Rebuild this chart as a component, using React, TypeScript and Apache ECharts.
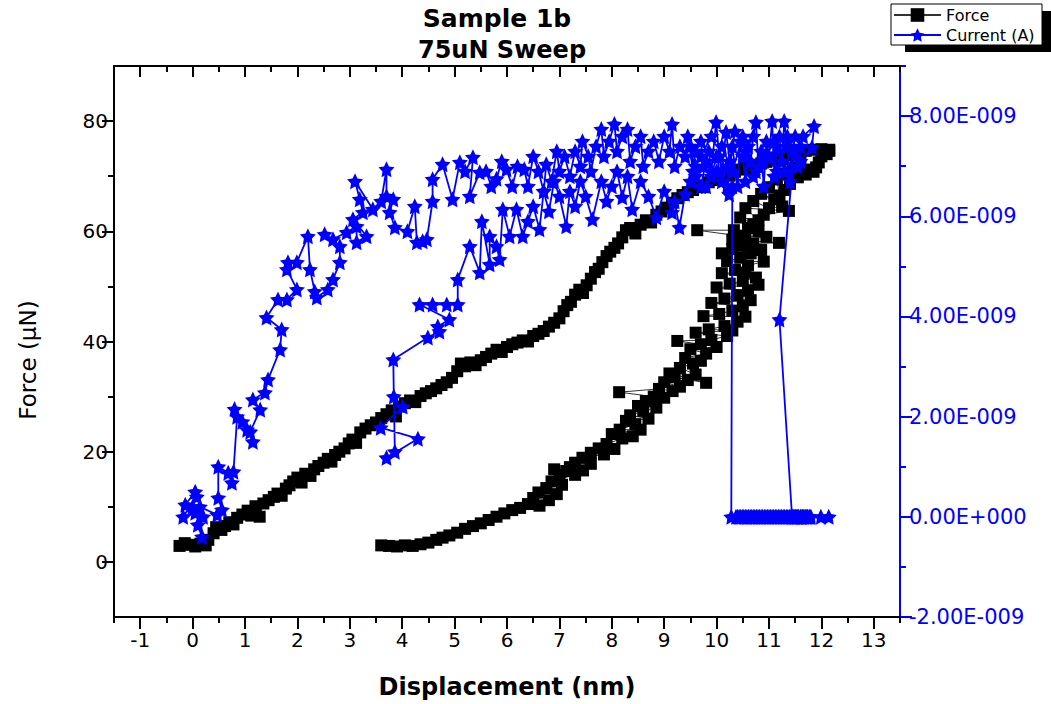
import React, { useEffect, useRef } from "react";
import * as echarts from "echarts";

// ---------- axis ticks / labels ----------
const xMajorTicks = [-1, 0, 1, 2, 3, 4, 5, 6, 7, 8, 9, 10, 11, 12, 13];
const xMinorTicks = [-1.5, -0.5, 0.5, 1.5, 2.5, 3.5, 4.5, 5.5, 6.5, 7.5, 8.5, 9.5, 10.5, 11.5, 12.5, 13.5];
const forceMajorTicks = [0, 20, 40, 60, 80];
const forceMinorTicks = [10, 30, 50, 70];
const currentMajorTicks = [-2, 0, 2, 4, 6, 8];
const currentMinorTicks = [-1, 1, 3, 5, 7, 9];

// ---------- Force (µN) vs displacement (nm) ----------
const forceLoading: [number, number][] = [
  [-0.25, 2.9], [-0.15, 3.4], [-0.05, 3.1], [0.05, 2.8], [0.15, 3.3], [0.25, 3.0], [0.3, 4.0], [0.4, 5.2],
  [0.45, 6.3], [0.55, 5.8], [0.62, 6.5], [0.7, 7.2], [0.78, 6.8], [0.85, 8.0], [0.95, 8.6], [1.05, 9.3],
  [1.12, 8.4], [1.2, 10.1], [1.28, 8.2], [1.35, 10.6], [1.45, 11.2], [1.55, 11.8], [1.62, 12.4], [1.7, 12.0],
  [1.78, 13.3], [1.85, 13.9], [1.92, 14.6], [2.0, 15.3], [2.08, 14.4], [2.15, 16.0], [2.25, 15.6], [2.32, 16.8],
  [2.4, 17.4], [2.5, 18.0], [2.58, 18.7], [2.65, 18.2], [2.72, 19.4], [2.8, 20.0], [2.9, 20.6], [2.98, 21.5],
  [3.05, 22.2], [3.12, 21.6], [3.2, 23.5], [3.3, 24.2], [3.4, 24.8], [3.5, 25.3], [3.6, 26.1], [3.7, 26.8],
  [3.8, 27.5], [3.88, 26.4], [3.95, 28.2], [4.05, 28.8], [4.15, 29.3], [4.25, 29.0], [4.35, 30.1], [4.45, 30.6],
  [4.55, 31.0], [4.65, 31.5], [4.75, 32.1], [4.85, 32.6], [4.95, 33.4], [5.05, 34.6], [5.12, 36.0], [5.2, 35.5],
  [5.3, 36.2], [5.4, 35.7], [5.5, 36.6], [5.6, 37.2], [5.7, 37.8], [5.8, 38.5], [5.9, 38.1], [6.0, 39.0],
  [6.1, 39.5], [6.2, 39.8], [6.3, 40.2], [6.4, 40.0], [6.5, 41.0], [6.6, 41.4], [6.7, 41.9], [6.8, 42.7],
  [6.9, 43.4], [7.0, 44.2], [7.08, 45.5], [7.15, 46.6], [7.22, 47.2], [7.3, 48.5], [7.38, 49.4], [7.45, 48.8],
  [7.52, 50.2], [7.6, 51.4], [7.68, 52.6], [7.75, 53.2], [7.82, 54.4], [7.9, 55.5], [7.97, 56.3], [8.05, 57.0],
  [8.12, 57.8], [8.2, 58.9], [8.27, 60.2], [8.35, 60.6], [8.45, 59.6], [8.55, 61.2], [8.65, 62.0], [8.75, 61.6],
  [8.85, 63.0], [8.95, 63.6], [9.05, 64.3], [9.15, 65.2], [9.25, 66.0], [9.35, 66.6], [9.45, 67.1], [9.55, 67.5],
  [9.65, 68.2], [9.75, 68.0], [9.85, 68.9], [9.95, 69.3], [10.05, 69.9], [10.15, 70.4], [10.25, 70.1], [10.35, 70.8],
  [10.45, 71.2], [10.55, 71.6], [10.65, 71.4], [10.75, 72.0], [10.85, 72.3], [10.95, 72.6], [11.05, 72.9], [11.15, 73.4],
  [11.25, 73.1], [11.35, 73.8], [11.45, 74.1], [11.55, 74.3], [11.7, 74.6], [11.85, 74.8], [12.0, 74.9], [12.15, 74.8],
];
const forceUnloading: [number, number][] = [
  [12.15, 74.6], [12.1, 74.0], [12.0, 73.6], [11.95, 72.5], [11.85, 70.8], [11.9, 71.6], [11.75, 71.2], [11.7, 70.3],
  [11.6, 72.5], [11.55, 69.8], [11.45, 71.5], [11.4, 68.6], [11.3, 70.5], [11.3, 67.5], [11.15, 69.4], [11.2, 66.5],
  [11.0, 68.0], [11.1, 65.8], [10.85, 66.8], [11.25, 64.5], [11.0, 64.2], [10.7, 65.5], [10.9, 63.0], [11.38, 63.7],
  [10.55, 64.2], [10.8, 62.0], [10.45, 62.5], [10.7, 61.3], [10.6, 60.6], [10.8, 60.0], [10.33, 60.2], [9.63, 60.2],
  [10.4, 59.2], [10.95, 59.0], [10.55, 58.5], [10.3, 58.5], [11.19, 57.9], [10.7, 57.8], [10.5, 57.4], [10.3, 56.8],
  [10.85, 56.6], [10.1, 56.0], [10.65, 56.0], [10.45, 55.2], [10.2, 54.6], [10.9, 54.5], [10.6, 53.8], [10.35, 53.0],
  [10.55, 52.5], [10.1, 52.4], [10.75, 51.6], [10.5, 51.0], [10.25, 50.5], [10.8, 50.3], [10.0, 49.8], [10.6, 49.2],
  [10.4, 48.4], [10.15, 47.8], [10.65, 47.5], [9.9, 47.0], [10.5, 46.4], [10.3, 45.6], [10.05, 45.0], [9.75, 44.6],
  [10.55, 44.5], [10.4, 43.6], [10.15, 42.8], [9.85, 42.2], [10.3, 42.0], [9.6, 41.6], [10.2, 41.0], [9.9, 40.3],
  [9.25, 40.1], [9.7, 39.5], [10.0, 39.0], [9.5, 38.6], [9.8, 37.8], [9.4, 37.0], [9.7, 36.5], [9.55, 36.0],
  [9.3, 35.2], [9.6, 34.0], [9.1, 34.2], [9.8, 32.5], [9.2, 33.5], [9.45, 33.0], [9.0, 32.6], [9.3, 31.8],
  [9.16, 31.0], [8.9, 31.4], [8.14, 30.8], [8.8, 30.0], [9.0, 29.8], [8.65, 29.2], [8.5, 28.3], [8.85, 28.0],
  [8.6, 27.4], [8.35, 26.6], [8.7, 26.0], [8.27, 25.6], [8.45, 25.0], [8.15, 24.0], [8.55, 24.0], [8.0, 23.2],
  [8.4, 22.8], [8.2, 22.4], [7.9, 21.4], [8.05, 20.5], [7.75, 20.6], [7.6, 19.8], [7.85, 19.5], [7.44, 18.9],
  [7.3, 18.0], [7.6, 17.8], [7.2, 17.2], [7.45, 16.6], [7.13, 16.5], [6.9, 16.8], [7.0, 15.8], [7.3, 15.8],
  [6.85, 14.6], [7.05, 14.0], [6.75, 13.4], [6.6, 12.6], [6.95, 12.3], [6.5, 11.6], [6.8, 11.2], [6.62, 10.2],
  [6.4, 10.5], [6.25, 9.8], [6.1, 9.4], [5.95, 8.8], [5.8, 8.2], [5.65, 7.6], [5.5, 7.0], [5.35, 6.5],
  [5.2, 6.0], [5.05, 5.3], [4.9, 4.8], [4.77, 4.4], [4.65, 4.0], [4.5, 3.5], [4.35, 3.2], [4.2, 2.9],
  [4.05, 3.0], [3.9, 2.8], [3.75, 2.9], [3.6, 3.0],
];

// ---------- Current (units of 1E-009 A) vs displacement (nm) ----------
const currentLoading: [number, number][] = [
  [0.0, 0.2], [-0.14, 0.24], [0.05, 0.5], [0.08, 0.4], [-0.18, 0.0], [0.05, 0.08], [0.2, 0.0], [0.1, -0.16],
  [0.18, -0.4], [0.14, 0.2], [0.47, 0.04], [0.56, 0.14], [0.49, 0.38], [0.49, 1.0], [0.68, 0.88], [0.75, 0.68],
  [0.78, 0.9], [0.85, 2.0], [0.8, 2.15], [1.04, 1.74], [0.95, 1.9], [1.15, 1.5], [1.1, 1.7], [1.29, 2.14],
  [1.15, 2.34], [1.38, 2.48], [1.44, 2.74], [1.67, 3.34], [1.7, 3.74], [1.41, 3.98], [1.63, 4.34], [1.8, 4.34],
  [1.99, 4.54], [1.8, 4.94], [1.82, 5.08], [1.99, 5.08], [2.2, 5.6], [2.24, 4.94], [2.33, 4.5], [2.37, 4.38],
  [2.58, 4.54], [2.68, 4.74], [2.81, 5.08], [2.81, 5.4], [2.52, 5.64], [2.68, 5.54], [2.94, 5.68], [3.13, 5.8],
  [3.13, 5.48], [3.32, 5.6], [3.06, 5.94], [3.25, 6.08], [3.19, 6.34], [3.1, 6.7], [3.44, 6.14], [3.6, 6.3],
  [3.7, 6.94], [3.7, 6.4], [3.83, 6.34], [3.76, 6.08], [3.86, 5.78], [4.1, 5.7], [4.24, 6.2], [4.28, 5.48],
  [4.39, 5.5], [4.47, 5.54], [4.58, 6.3], [4.58, 6.74], [4.77, 7.04], [4.96, 6.34], [5.1, 7.08], [5.2, 6.9],
  [5.35, 7.18], [5.29, 6.4], [5.48, 6.88], [5.6, 6.9], [5.7, 6.6], [5.8, 6.75], [5.9, 7.1], [5.99, 6.94],
  [6.1, 6.6], [6.2, 7.0], [6.33, 6.94], [6.4, 6.6], [6.5, 7.2], [6.6, 6.9], [6.7, 6.5], [6.75, 7.04],
  [6.85, 6.7], [6.95, 7.3], [7.0, 6.9], [7.1, 7.2], [7.2, 6.8], [7.3, 7.3], [7.4, 7.0], [7.44, 7.5],
  [7.55, 7.2], [7.6, 6.9], [7.7, 7.4], [7.8, 7.74], [7.85, 7.2], [7.95, 7.5], [8.05, 7.84], [8.1, 7.3],
  [8.2, 7.6], [8.3, 7.74], [8.35, 7.1], [8.45, 7.4], [8.55, 7.6], [8.6, 7.0], [8.7, 7.3], [8.8, 7.5],
  [8.9, 7.1], [9.0, 7.6], [9.1, 7.3], [9.15, 7.84], [9.2, 7.0], [9.3, 7.4], [9.4, 7.2], [9.45, 7.6],
  [9.55, 6.9], [9.6, 7.3], [9.7, 7.5], [9.75, 7.0], [9.85, 7.3], [9.9, 6.9], [9.99, 7.88], [10.05, 7.2],
  [10.1, 6.9], [10.18, 7.68], [10.25, 7.1], [10.3, 7.4], [10.4, 6.6], [10.45, 7.5], [10.5, 7.2], [10.55, 6.7],
  [10.6, 7.4], [10.65, 7.1], [10.7, 7.6], [10.75, 7.88], [10.8, 7.0], [10.85, 7.3], [10.9, 6.6], [10.95, 7.5],
  [11.0, 7.2], [11.06, 7.9], [11.1, 6.8], [11.15, 7.4], [11.2, 7.6], [11.25, 7.1], [11.29, 7.9], [11.35, 7.4],
  [11.4, 6.7], [11.45, 7.3], [11.5, 7.6], [11.6, 7.4], [11.3, 6.9], [11.1, 7.5], [10.9, 7.1], [10.7, 6.8],
  [10.5, 7.6], [10.3, 6.9], [10.1, 7.4], [9.9, 7.6], [9.7, 7.2], [9.5, 7.4], [9.6, 6.8], [9.8, 6.6],
  [10.0, 6.9], [10.2, 6.6], [10.35, 7.7], [10.55, 7.3], [10.75, 6.9], [10.95, 7.2], [11.15, 6.9], [11.35, 7.6],
  [11.55, 7.0], [11.65, 7.6], [11.86, 7.8], [11.82, 7.38], [11.6, 7.1], [11.48, 7.34], [11.2, 3.94], [11.44, 0.0],
];
const currentZero: [number, number][] = [
  [11.47, 0], [11.5, 0], [11.53, 0], [11.56, 0], [11.6, 0], [11.63, 0], [11.66, 0], [11.7, 0], [11.73, 0],
  [11.77, 0], [11.8, 0], [11.99, 0], [12.14, 0], [11.78, 0], [11.74, 0], [11.71, 0], [11.67, 0], [11.64, 0],
  [11.61, 0], [11.57, 0], [11.54, 0], [11.51, 0], [11.48, 0], [11.45, 0], [11.42, 0], [11.39, 0], [11.36, 0],
  [11.33, 0], [11.3, 0], [11.27, 0], [11.24, 0], [11.21, 0], [11.18, 0], [11.15, 0], [11.12, 0], [11.09, 0],
  [11.06, 0], [11.03, 0], [11.0, 0], [10.97, 0], [10.94, 0], [10.91, 0], [10.88, 0], [10.85, 0], [10.82, 0],
  [10.79, 0], [10.76, 0], [10.73, 0], [10.7, 0], [10.67, 0], [10.64, 0], [10.61, 0], [10.58, 0], [10.55, 0],
  [10.52, 0], [10.49, 0], [10.46, 0], [10.43, 0], [10.4, 0], [10.37, 0], [10.28, 0],
];
const currentUnloading: [number, number][] = [
  [10.3, 6.6], [10.24, 6.44], [10.2, 7.0], [10.1, 6.7], [10.0, 7.2], [9.9, 6.8], [9.8, 7.1], [9.7, 6.6],
  [9.6, 7.0], [9.5, 6.7], [9.4, 6.45], [9.29, 5.78], [9.2, 6.3], [9.15, 6.08], [9.0, 6.5], [8.85, 5.98],
  [8.7, 6.4], [8.55, 6.7], [8.39, 6.14], [8.3, 6.8], [8.2, 6.38], [8.1, 6.9], [8.0, 6.6], [7.9, 6.3],
  [7.8, 6.7], [7.63, 5.94], [7.5, 6.4], [7.4, 6.7], [7.3, 6.2], [7.2, 6.5], [7.13, 5.8], [7.0, 6.4],
  [6.9, 6.7], [6.8, 6.1], [6.7, 6.5], [6.62, 5.74], [6.5, 6.2], [6.4, 5.9], [6.3, 5.6], [6.18, 6.14],
  [6.05, 5.6], [5.92, 6.14], [5.86, 5.14], [5.8, 5.4], [5.67, 5.6], [5.67, 5.04], [5.52, 5.9], [5.48, 4.88],
  [5.29, 5.4], [5.06, 4.74], [5.06, 4.24], [4.85, 4.24], [4.58, 4.24], [4.33, 4.24], [4.9, 3.94], [4.68, 3.8],
  [4.71, 3.7], [4.49, 3.58], [3.83, 3.14], [3.84, 2.4], [3.86, 1.3], [3.7, 1.18], [4.3, 1.56], [3.59, 1.78],
  [4.01, 2.2],
];

const STAR =
  "path://M0,-10L2.94,-4.05L9.51,-3.09L4.76,1.55L5.88,8.09L0,5L-5.88,8.09L-4.76,1.55L-9.51,-3.09L-2.94,-4.05Z";

const FONT = "DejaVu Sans";
const BLUE = "#0000ff";

export default function App() {
  const ref = useRef<HTMLDivElement>(null);

  useEffect(() => {
    if (!ref.current) return;
    const chart = echarts.init(ref.current, null, { renderer: "svg" });

    const blackLine = { color: "#000", width: 2 };
    const blueLine = { color: BLUE, width: 2 };
    const xRange = { min: -1.5, max: 13.5 };
    const fRange = { min: -10, max: 90 };
    const cRange = { min: -2, max: 9 };

    const option: any = {
      animation: false,
      backgroundColor: "#fff",
      grid: { left: 114, right: 151, top: 66, bottom: 87, containLabel: false },
      graphic: [
        { type: "rect", z: 0, shape: { x: 905, y: 11, width: 151, height: 41 }, style: { fill: "#000" } },
        { type: "rect", z: 1, shape: { x: 891, y: 4, width: 151, height: 41 }, style: { fill: "#fff", stroke: "#000", lineWidth: 1 } },
        {
          type: "text", x: 497, y: 18,
          style: { text: "Sample 1b", fontFamily: FONT, fontWeight: "bold", fontSize: 25, fill: "#000", textAlign: "center", textVerticalAlign: "middle" },
        },
        {
          type: "text", x: 502, y: 50,
          style: { text: "75uN Sweep", fontFamily: FONT, fontWeight: "bold", fontSize: 24, fill: "#000", textAlign: "center", textVerticalAlign: "middle" },
        },
        {
          type: "text", x: 28, y: 360, rotation: Math.PI / 2,
          style: { text: "Force (µN)", fontFamily: FONT, fontSize: 23, fill: "#000", textAlign: "center", textVerticalAlign: "middle" },
        },
      ],
      legend: {
        orient: "vertical",
        left: 893,
        top: 7,
        padding: 0,
        itemWidth: 47,
        itemHeight: 17,
        itemGap: 4,
        textStyle: { fontFamily: FONT, fontSize: 16, color: "#000" },
        data: ["Force", "Current (A)"],
      },
      xAxis: [
        {
          type: "value", position: "bottom", ...xRange,
          name: "Displacement (nm)", nameLocation: "middle", nameGap: 58,
          nameTextStyle: { fontFamily: FONT, fontSize: 24, fontWeight: "bold", color: "#000" },
          axisLine: { show: true, onZero: false, lineStyle: blackLine },
          axisTick: { show: true, inside: false, length: 12, lineStyle: blackLine, customValues: xMajorTicks },
          axisLabel: { show: true, customValues: xMajorTicks, fontFamily: FONT, fontSize: 20, color: "#000", margin: 13 },
          splitLine: { show: false },
        },
        {
          type: "value", position: "bottom", ...xRange,
          axisLine: { show: false, onZero: false },
          axisTick: { show: true, inside: false, length: 6, lineStyle: blackLine, customValues: xMinorTicks },
          axisLabel: { show: false },
          splitLine: { show: false },
        },
        {
          type: "value", position: "top", ...xRange,
          axisLine: { show: true, onZero: false, lineStyle: blackLine },
          axisTick: { show: true, inside: true, length: 11, lineStyle: blackLine, customValues: xMajorTicks },
          axisLabel: { show: false },
          splitLine: { show: false },
        },
        {
          type: "value", position: "top", ...xRange,
          axisLine: { show: false, onZero: false },
          axisTick: { show: true, inside: true, length: 6, lineStyle: blackLine, customValues: xMinorTicks },
          axisLabel: { show: false },
          splitLine: { show: false },
        },
      ],
      yAxis: [
        {
          type: "value", position: "left", ...fRange,
          axisLine: { show: true, onZero: false, lineStyle: blackLine },
          axisTick: { show: true, inside: false, length: 12, lineStyle: blackLine, customValues: forceMajorTicks },
          axisLabel: { show: true, customValues: forceMajorTicks, fontFamily: FONT, fontSize: 20, color: "#000", margin: 6 },
          splitLine: { show: false },
        },
        {
          type: "value", position: "right", ...cRange,
          axisLine: { show: true, onZero: false, lineStyle: blueLine },
          axisTick: { show: true, inside: false, length: 12, lineStyle: blueLine, customValues: currentMajorTicks },
          axisLabel: {
            show: true, customValues: currentMajorTicks, fontFamily: FONT, fontSize: 21, color: BLUE, margin: 9,
            formatter: (v: number) => (v === 0 ? "0.00E+000" : v.toFixed(2) + "E-009"),
          },
          splitLine: { show: false },
        },
        {
          type: "value", position: "left", ...fRange,
          axisLine: { show: false, onZero: false },
          axisTick: { show: true, inside: false, length: 6, lineStyle: blackLine, customValues: forceMinorTicks },
          axisLabel: { show: false },
          splitLine: { show: false },
        },
        {
          type: "value", position: "right", ...cRange,
          axisLine: { show: false, onZero: false },
          axisTick: { show: true, inside: false, length: 6, lineStyle: blueLine, customValues: currentMinorTicks },
          axisLabel: { show: false },
          splitLine: { show: false },
        },
      ],
      series: [
        {
          type: "line",
          name: "Force",
          xAxisIndex: 0,
          yAxisIndex: 0,
          data: [...forceLoading, ...forceUnloading],
          symbol: "rect",
          symbolSize: 12,
          showAllSymbol: true,
          itemStyle: { color: "#000" },
          lineStyle: { color: "#333", width: 1 },
          z: 2,
        },
        {
          type: "line",
          name: "Current (A)",
          xAxisIndex: 0,
          yAxisIndex: 1,
          data: [...currentLoading, ...currentZero, ...currentUnloading],
          symbol: STAR,
          symbolSize: 16,
          showAllSymbol: true,
          itemStyle: { color: BLUE },
          lineStyle: { color: BLUE, width: 1.8 },
          z: 3,
        },
      ],
    };

    chart.setOption(option);
    return () => chart.dispose();
  }, []);

  return (
    <div
      ref={ref}
      style={{ position: "fixed", left: 0, top: 0, width: 1051, height: 704, background: "#fff" }}
    />
  );
}
